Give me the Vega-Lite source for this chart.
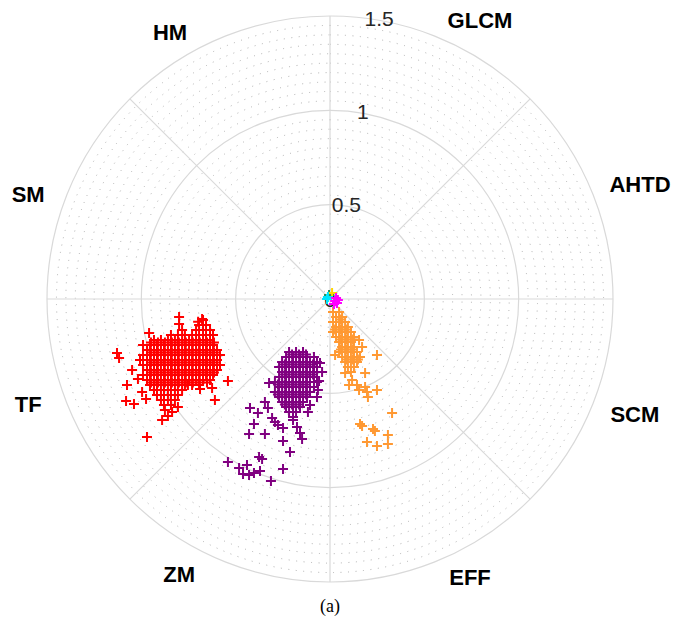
{
"$schema": "https://vega.github.io/schema/vega-lite/v6.json",
"width": 566,
"height": 566,
"autosize": "none",
"padding": {"left": 47, "top": 16, "right": 62, "bottom": 44},
"background": "white",
"config": {"view": {"stroke": null}},
"layer": [
{
"data": {"values": [{"r":0.05},{"r":0.1},{"r":0.15},{"r":0.2},{"r":0.25},{"r":0.3},{"r":0.35},{"r":0.4},{"r":0.45},{"r":0.55},{"r":0.6},{"r":0.65},{"r":0.7},{"r":0.75},{"r":0.8},{"r":0.85},{"r":0.9},{"r":0.95},{"r":1.05},{"r":1.1},{"r":1.15},{"r":1.2},{"r":1.25},{"r":1.3},{"r":1.35},{"r":1.4},{"r":1.45}]},
"mark": {"type": "arc", "theta": 0, "theta2": 6.2832, "filled": false, "stroke": "#b0b0b0", "strokeWidth": 1, "strokeDash": [1, 6.5]},
"encoding": {"radius": {"field": "r", "type": "quantitative", "stack": null, "scale": {"type": "linear", "domain": [0, 1.5], "range": [0, 283], "zero": true, "nice": false}}}
},
{
"data": {"values": [{"r":0.5},{"r":1},{"r":1.5}]},
"mark": {"type": "arc", "theta": 0, "theta2": 6.2832, "filled": false, "stroke": "#d9d9d9", "strokeWidth": 1.2},
"encoding": {"radius": {"field": "r", "type": "quantitative", "stack": null, "scale": {"type": "linear", "domain": [0, 1.5], "range": [0, 283], "zero": true, "nice": false}}}
},
{
"data": {"values": [
{"x":0,"y":0,"x2":0,"y2":1.5},{"x":0,"y":0,"x2":1.0607,"y2":1.0607},{"x":0,"y":0,"x2":1.5,"y2":0},{"x":0,"y":0,"x2":1.0607,"y2":-1.0607},
{"x":0,"y":0,"x2":0,"y2":-1.5},{"x":0,"y":0,"x2":-1.0607,"y2":-1.0607},{"x":0,"y":0,"x2":-1.5,"y2":0},{"x":0,"y":0,"x2":-1.0607,"y2":1.0607}]},
"mark": {"type": "rule", "stroke": "#d9d9d9", "strokeWidth": 1.2},
"encoding": {
"x": {"field": "x", "type": "quantitative", "scale": {"domain": [-1.5, 1.5], "nice": false, "zero": false}, "axis": null},
"y": {"field": "y", "type": "quantitative", "scale": {"domain": [-1.5, 1.5], "nice": false, "zero": false}, "axis": null},
"x2": {"field": "x2"},
"y2": {"field": "y2"}
}
},
{
"data": {"values": [{"t":"0","x":0,"y":-0.01},{"t":"0.5","x":0.0868,"y":0.4924},{"t":"1","x":0.1736,"y":0.9848},{"t":"1.5","x":0.2605,"y":1.4772}]},
"mark": {"type": "text", "font": "Liberation Sans", "fontSize": 21, "color": "#262626", "align": "center", "baseline": "middle"},
"encoding": {
"x": {"field": "x", "type": "quantitative", "scale": {"domain": [-1.5, 1.5], "nice": false, "zero": false}, "axis": null},
"y": {"field": "y", "type": "quantitative", "scale": {"domain": [-1.5, 1.5], "nice": false, "zero": false}, "axis": null},
"text": {"field": "t"}
}
},
{
"data": {"values": [
{"g":"r","x":-1.129,"y":-0.286},{"g":"r","x":-1.118,"y":-0.313},{"g":"r","x":-0.959,"y":-0.180},{"g":"r","x":-0.800,"y":-0.095},{"g":"r","x":-0.800,"y":-0.133},{"g":"r","x":-0.678,"y":-0.106},
{"g":"r","x":-1.049,"y":-0.376},{"g":"r","x":-1.076,"y":-0.456},{"g":"r","x":-1.081,"y":-0.541},{"g":"r","x":-1.039,"y":-0.557},{"g":"r","x":-0.996,"y":-0.493},{"g":"r","x":-0.975,"y":-0.530},
{"g":"r","x":-0.890,"y":-0.641},{"g":"r","x":-0.970,"y":-0.731},{"g":"r","x":-0.610,"y":-0.535},{"g":"r","x":-0.541,"y":-0.435},{"g":"r","x":-0.689,"y":-0.477},{"g":"r","x":-0.625,"y":-0.472},
{"g":"r","x":-0.753,"y":-0.456},{"g":"r","x":-0.806,"y":-0.572},{"g":"r","x":-0.837,"y":-0.599},{"g":"r","x":-0.875,"y":-0.588},{"g":"r","x":-0.859,"y":-0.620},{"g":"r","x":-1.018,"y":-0.424},
{"g":"r","x":-0.673,"y":-0.111},{"g":"r","x":-0.699,"y":-0.120},
{"g":"r","x":-0.694,"y":-0.138},{"g":"r","x":-0.657,"y":-0.138},
{"g":"r","x":-0.784,"y":-0.164},{"g":"r","x":-0.710,"y":-0.164},{"g":"r","x":-0.673,"y":-0.164},{"g":"r","x":-0.636,"y":-0.164},
{"g":"r","x":-0.843,"y":-0.191},{"g":"r","x":-0.806,"y":-0.191},{"g":"r","x":-0.769,"y":-0.191},{"g":"r","x":-0.731,"y":-0.191},{"g":"r","x":-0.694,"y":-0.191},{"g":"r","x":-0.657,"y":-0.191},{"g":"r","x":-0.620,"y":-0.191},
{"g":"r","x":-0.933,"y":-0.217},{"g":"r","x":-0.896,"y":-0.217},{"g":"r","x":-0.859,"y":-0.217},{"g":"r","x":-0.822,"y":-0.217},{"g":"r","x":-0.784,"y":-0.217},{"g":"r","x":-0.747,"y":-0.217},{"g":"r","x":-0.710,"y":-0.217},{"g":"r","x":-0.673,"y":-0.217},{"g":"r","x":-0.636,"y":-0.217},
{"g":"r","x":-0.991,"y":-0.244},{"g":"r","x":-0.954,"y":-0.244},{"g":"r","x":-0.917,"y":-0.244},{"g":"r","x":-0.880,"y":-0.244},{"g":"r","x":-0.843,"y":-0.244},{"g":"r","x":-0.806,"y":-0.244},{"g":"r","x":-0.769,"y":-0.244},{"g":"r","x":-0.731,"y":-0.244},{"g":"r","x":-0.694,"y":-0.244},{"g":"r","x":-0.657,"y":-0.244},{"g":"r","x":-0.620,"y":-0.244},
{"g":"r","x":-0.970,"y":-0.270},{"g":"r","x":-0.933,"y":-0.270},{"g":"r","x":-0.896,"y":-0.270},{"g":"r","x":-0.859,"y":-0.270},{"g":"r","x":-0.822,"y":-0.270},{"g":"r","x":-0.784,"y":-0.270},{"g":"r","x":-0.747,"y":-0.270},{"g":"r","x":-0.710,"y":-0.270},{"g":"r","x":-0.673,"y":-0.270},{"g":"r","x":-0.636,"y":-0.270},{"g":"r","x":-0.599,"y":-0.270},
{"g":"r","x":-0.991,"y":-0.297},{"g":"r","x":-0.954,"y":-0.297},{"g":"r","x":-0.917,"y":-0.297},{"g":"r","x":-0.880,"y":-0.297},{"g":"r","x":-0.843,"y":-0.297},{"g":"r","x":-0.806,"y":-0.297},{"g":"r","x":-0.769,"y":-0.297},{"g":"r","x":-0.731,"y":-0.297},{"g":"r","x":-0.694,"y":-0.297},{"g":"r","x":-0.657,"y":-0.297},{"g":"r","x":-0.620,"y":-0.297},{"g":"r","x":-0.583,"y":-0.297},
{"g":"r","x":-1.007,"y":-0.323},{"g":"r","x":-0.970,"y":-0.323},{"g":"r","x":-0.933,"y":-0.323},{"g":"r","x":-0.896,"y":-0.323},{"g":"r","x":-0.859,"y":-0.323},{"g":"r","x":-0.822,"y":-0.323},{"g":"r","x":-0.784,"y":-0.323},{"g":"r","x":-0.747,"y":-0.323},{"g":"r","x":-0.710,"y":-0.323},{"g":"r","x":-0.673,"y":-0.323},{"g":"r","x":-0.636,"y":-0.323},{"g":"r","x":-0.599,"y":-0.323},
{"g":"r","x":-0.991,"y":-0.350},{"g":"r","x":-0.954,"y":-0.350},{"g":"r","x":-0.917,"y":-0.350},{"g":"r","x":-0.880,"y":-0.350},{"g":"r","x":-0.843,"y":-0.350},{"g":"r","x":-0.806,"y":-0.350},{"g":"r","x":-0.769,"y":-0.350},{"g":"r","x":-0.731,"y":-0.350},{"g":"r","x":-0.694,"y":-0.350},{"g":"r","x":-0.657,"y":-0.350},{"g":"r","x":-0.620,"y":-0.350},{"g":"r","x":-0.583,"y":-0.350},
{"g":"r","x":-0.970,"y":-0.376},{"g":"r","x":-0.933,"y":-0.376},{"g":"r","x":-0.896,"y":-0.376},{"g":"r","x":-0.859,"y":-0.376},{"g":"r","x":-0.822,"y":-0.376},{"g":"r","x":-0.784,"y":-0.376},{"g":"r","x":-0.747,"y":-0.376},{"g":"r","x":-0.710,"y":-0.376},{"g":"r","x":-0.673,"y":-0.376},{"g":"r","x":-0.636,"y":-0.376},{"g":"r","x":-0.599,"y":-0.376},
{"g":"r","x":-0.991,"y":-0.403},{"g":"r","x":-0.954,"y":-0.403},{"g":"r","x":-0.917,"y":-0.403},{"g":"r","x":-0.880,"y":-0.403},{"g":"r","x":-0.843,"y":-0.403},{"g":"r","x":-0.806,"y":-0.403},{"g":"r","x":-0.769,"y":-0.403},{"g":"r","x":-0.731,"y":-0.403},{"g":"r","x":-0.694,"y":-0.403},{"g":"r","x":-0.657,"y":-0.403},{"g":"r","x":-0.620,"y":-0.403},
{"g":"r","x":-0.970,"y":-0.429},{"g":"r","x":-0.933,"y":-0.429},{"g":"r","x":-0.896,"y":-0.429},{"g":"r","x":-0.859,"y":-0.429},{"g":"r","x":-0.822,"y":-0.429},{"g":"r","x":-0.784,"y":-0.429},{"g":"r","x":-0.747,"y":-0.429},{"g":"r","x":-0.710,"y":-0.429},{"g":"r","x":-0.673,"y":-0.429},{"g":"r","x":-0.636,"y":-0.429},
{"g":"r","x":-0.954,"y":-0.456},{"g":"r","x":-0.917,"y":-0.456},{"g":"r","x":-0.880,"y":-0.456},{"g":"r","x":-0.843,"y":-0.456},{"g":"r","x":-0.806,"y":-0.456},{"g":"r","x":-0.769,"y":-0.456},{"g":"r","x":-0.731,"y":-0.456},{"g":"r","x":-0.694,"y":-0.456},
{"g":"r","x":-0.933,"y":-0.482},{"g":"r","x":-0.896,"y":-0.482},{"g":"r","x":-0.859,"y":-0.482},{"g":"r","x":-0.822,"y":-0.482},{"g":"r","x":-0.784,"y":-0.482},
{"g":"r","x":-0.917,"y":-0.509},{"g":"r","x":-0.880,"y":-0.509},{"g":"r","x":-0.843,"y":-0.509},{"g":"r","x":-0.806,"y":-0.509},
{"g":"r","x":-0.896,"y":-0.535},{"g":"r","x":-0.859,"y":-0.535},{"g":"r","x":-0.822,"y":-0.535},
{"g":"r","x":-0.880,"y":-0.562},{"g":"r","x":-0.843,"y":-0.562},
{"g":"r","x":-0.949,"y":-0.231},{"g":"r","x":-0.912,"y":-0.231},{"g":"r","x":-0.875,"y":-0.231},{"g":"r","x":-0.838,"y":-0.231},{"g":"r","x":-0.801,"y":-0.231},{"g":"r","x":-0.764,"y":-0.231},{"g":"r","x":-0.727,"y":-0.231},{"g":"r","x":-0.690,"y":-0.231},{"g":"r","x":-0.652,"y":-0.231},{"g":"r","x":-0.615,"y":-0.231},
{"g":"r","x":-0.949,"y":-0.284},{"g":"r","x":-0.912,"y":-0.284},{"g":"r","x":-0.875,"y":-0.284},{"g":"r","x":-0.838,"y":-0.284},{"g":"r","x":-0.801,"y":-0.284},{"g":"r","x":-0.764,"y":-0.284},{"g":"r","x":-0.727,"y":-0.284},{"g":"r","x":-0.690,"y":-0.284},{"g":"r","x":-0.652,"y":-0.284},{"g":"r","x":-0.615,"y":-0.284},
{"g":"r","x":-0.949,"y":-0.337},{"g":"r","x":-0.912,"y":-0.337},{"g":"r","x":-0.875,"y":-0.337},{"g":"r","x":-0.838,"y":-0.337},{"g":"r","x":-0.801,"y":-0.337},{"g":"r","x":-0.764,"y":-0.337},{"g":"r","x":-0.727,"y":-0.337},{"g":"r","x":-0.690,"y":-0.337},{"g":"r","x":-0.652,"y":-0.337},{"g":"r","x":-0.615,"y":-0.337},
{"g":"r","x":-0.949,"y":-0.390},{"g":"r","x":-0.912,"y":-0.390},{"g":"r","x":-0.875,"y":-0.390},{"g":"r","x":-0.838,"y":-0.390},{"g":"r","x":-0.801,"y":-0.390},{"g":"r","x":-0.764,"y":-0.390},{"g":"r","x":-0.727,"y":-0.390},{"g":"r","x":-0.690,"y":-0.390},{"g":"r","x":-0.652,"y":-0.390},{"g":"r","x":-0.615,"y":-0.390},
{"g":"r","x":-0.949,"y":-0.443},{"g":"r","x":-0.912,"y":-0.443},{"g":"r","x":-0.875,"y":-0.443},{"g":"r","x":-0.838,"y":-0.443},{"g":"r","x":-0.801,"y":-0.443},{"g":"r","x":-0.764,"y":-0.443},{"g":"r","x":-0.727,"y":-0.443},{"g":"r","x":-0.690,"y":-0.443},{"g":"r","x":-0.652,"y":-0.443},
{"g":"p","x":-0.217,"y":-0.281},{"g":"p","x":-0.180,"y":-0.281},{"g":"p","x":-0.143,"y":-0.281},
{"g":"p","x":-0.233,"y":-0.307},{"g":"p","x":-0.196,"y":-0.307},{"g":"p","x":-0.159,"y":-0.307},{"g":"p","x":-0.122,"y":-0.307},{"g":"p","x":-0.085,"y":-0.307},
{"g":"p","x":-0.254,"y":-0.334},{"g":"p","x":-0.217,"y":-0.334},{"g":"p","x":-0.180,"y":-0.334},{"g":"p","x":-0.143,"y":-0.334},{"g":"p","x":-0.106,"y":-0.334},{"g":"p","x":-0.069,"y":-0.334},
{"g":"p","x":-0.270,"y":-0.360},{"g":"p","x":-0.233,"y":-0.360},{"g":"p","x":-0.196,"y":-0.360},{"g":"p","x":-0.159,"y":-0.360},{"g":"p","x":-0.122,"y":-0.360},{"g":"p","x":-0.085,"y":-0.360},
{"g":"p","x":-0.254,"y":-0.387},{"g":"p","x":-0.217,"y":-0.387},{"g":"p","x":-0.180,"y":-0.387},{"g":"p","x":-0.143,"y":-0.387},{"g":"p","x":-0.106,"y":-0.387},{"g":"p","x":-0.069,"y":-0.387},
{"g":"p","x":-0.270,"y":-0.413},{"g":"p","x":-0.233,"y":-0.413},{"g":"p","x":-0.196,"y":-0.413},{"g":"p","x":-0.159,"y":-0.413},{"g":"p","x":-0.122,"y":-0.413},{"g":"p","x":-0.085,"y":-0.413},
{"g":"p","x":-0.292,"y":-0.440},{"g":"p","x":-0.254,"y":-0.440},{"g":"p","x":-0.217,"y":-0.440},{"g":"p","x":-0.180,"y":-0.440},{"g":"p","x":-0.143,"y":-0.440},{"g":"p","x":-0.106,"y":-0.440},{"g":"p","x":-0.069,"y":-0.440},
{"g":"p","x":-0.270,"y":-0.466},{"g":"p","x":-0.233,"y":-0.466},{"g":"p","x":-0.196,"y":-0.466},{"g":"p","x":-0.159,"y":-0.466},{"g":"p","x":-0.122,"y":-0.466},{"g":"p","x":-0.085,"y":-0.466},
{"g":"p","x":-0.292,"y":-0.493},{"g":"p","x":-0.254,"y":-0.493},{"g":"p","x":-0.217,"y":-0.493},{"g":"p","x":-0.180,"y":-0.493},{"g":"p","x":-0.143,"y":-0.493},{"g":"p","x":-0.106,"y":-0.493},
{"g":"p","x":-0.270,"y":-0.519},{"g":"p","x":-0.233,"y":-0.519},{"g":"p","x":-0.196,"y":-0.519},{"g":"p","x":-0.159,"y":-0.519},{"g":"p","x":-0.122,"y":-0.519},
{"g":"p","x":-0.254,"y":-0.546},{"g":"p","x":-0.217,"y":-0.546},{"g":"p","x":-0.180,"y":-0.546},{"g":"p","x":-0.143,"y":-0.546},
{"g":"p","x":-0.233,"y":-0.572},{"g":"p","x":-0.196,"y":-0.572},{"g":"p","x":-0.159,"y":-0.572},
{"g":"p","x":-0.217,"y":-0.599},{"g":"p","x":-0.180,"y":-0.599},
{"g":"p","x":-0.196,"y":-0.625},
{"g":"p","x":-0.201,"y":-0.294},{"g":"p","x":-0.164,"y":-0.294},{"g":"p","x":-0.127,"y":-0.294},
{"g":"p","x":-0.239,"y":-0.347},{"g":"p","x":-0.201,"y":-0.347},{"g":"p","x":-0.164,"y":-0.347},{"g":"p","x":-0.127,"y":-0.347},{"g":"p","x":-0.090,"y":-0.347},
{"g":"p","x":-0.239,"y":-0.400},{"g":"p","x":-0.201,"y":-0.400},{"g":"p","x":-0.164,"y":-0.400},{"g":"p","x":-0.127,"y":-0.400},{"g":"p","x":-0.090,"y":-0.400},
{"g":"p","x":-0.276,"y":-0.453},{"g":"p","x":-0.239,"y":-0.453},{"g":"p","x":-0.201,"y":-0.453},{"g":"p","x":-0.164,"y":-0.453},{"g":"p","x":-0.127,"y":-0.453},
{"g":"p","x":-0.276,"y":-0.506},{"g":"p","x":-0.239,"y":-0.506},{"g":"p","x":-0.201,"y":-0.506},{"g":"p","x":-0.164,"y":-0.506},{"g":"p","x":-0.127,"y":-0.506},
{"g":"p","x":-0.239,"y":-0.559},{"g":"p","x":-0.201,"y":-0.559},{"g":"p","x":-0.164,"y":-0.559},
{"g":"p","x":-0.053,"y":-0.339},{"g":"p","x":-0.058,"y":-0.435},{"g":"p","x":-0.064,"y":-0.482},{"g":"p","x":-0.117,"y":-0.599},{"g":"p","x":-0.323,"y":-0.445},{"g":"p","x":-0.345,"y":-0.546},
{"g":"p","x":-0.424,"y":-0.578},{"g":"p","x":-0.382,"y":-0.604},{"g":"p","x":-0.403,"y":-0.663},{"g":"p","x":-0.429,"y":-0.716},{"g":"p","x":-0.345,"y":-0.716},{"g":"p","x":-0.249,"y":-0.753},
{"g":"p","x":-0.212,"y":-0.811},{"g":"p","x":-0.175,"y":-0.678},{"g":"p","x":-0.159,"y":-0.710},{"g":"p","x":-0.148,"y":-0.742},{"g":"p","x":-0.376,"y":-0.837},{"g":"p","x":-0.360,"y":-0.848},
{"g":"p","x":-0.541,"y":-0.864},{"g":"p","x":-0.482,"y":-0.896},{"g":"p","x":-0.440,"y":-0.880},{"g":"p","x":-0.461,"y":-0.928},{"g":"p","x":-0.429,"y":-0.933},{"g":"p","x":-0.403,"y":-0.922},
{"g":"p","x":-0.371,"y":-0.912},{"g":"p","x":-0.249,"y":-0.901},{"g":"p","x":-0.313,"y":-0.965},{"g":"p","x":-0.276,"y":-0.668},{"g":"p","x":-0.307,"y":-0.631},{"g":"p","x":-0.329,"y":-0.578},
{"g":"p","x":-0.292,"y":-0.652},{"g":"p","x":-0.196,"y":-0.641},{"g":"p","x":-0.249,"y":-0.684},{"g":"p","x":-0.106,"y":-0.562},{"g":"p","x":-0.042,"y":-0.387},{"g":"p","x":-0.069,"y":-0.519},
{"g":"o","x":0.016,"y":-0.069},{"g":"o","x":0.048,"y":-0.069},
{"g":"o","x":0.032,"y":-0.095},{"g":"o","x":0.064,"y":-0.095},
{"g":"o","x":0.016,"y":-0.122},{"g":"o","x":0.048,"y":-0.122},{"g":"o","x":0.080,"y":-0.122},
{"g":"o","x":0.032,"y":-0.148},{"g":"o","x":0.064,"y":-0.148},{"g":"o","x":0.095,"y":-0.148},
{"g":"o","x":0.016,"y":-0.175},{"g":"o","x":0.048,"y":-0.175},{"g":"o","x":0.080,"y":-0.175},{"g":"o","x":0.111,"y":-0.175},
{"g":"o","x":0.032,"y":-0.201},{"g":"o","x":0.064,"y":-0.201},{"g":"o","x":0.095,"y":-0.201},{"g":"o","x":0.127,"y":-0.201},
{"g":"o","x":0.048,"y":-0.228},{"g":"o","x":0.080,"y":-0.228},{"g":"o","x":0.111,"y":-0.228},
{"g":"o","x":0.064,"y":-0.254},{"g":"o","x":0.095,"y":-0.254},{"g":"o","x":0.127,"y":-0.254},
{"g":"o","x":0.048,"y":-0.281},{"g":"o","x":0.080,"y":-0.281},{"g":"o","x":0.111,"y":-0.281},{"g":"o","x":0.143,"y":-0.281},
{"g":"o","x":0.064,"y":-0.307},{"g":"o","x":0.095,"y":-0.307},{"g":"o","x":0.127,"y":-0.307},{"g":"o","x":0.159,"y":-0.307},
{"g":"o","x":0.080,"y":-0.334},{"g":"o","x":0.111,"y":-0.334},{"g":"o","x":0.143,"y":-0.334},
{"g":"o","x":0.095,"y":-0.360},{"g":"o","x":0.127,"y":-0.360},
{"g":"o","x":0.111,"y":-0.387},
{"g":"o","x":0.058,"y":-0.109},
{"g":"o","x":0.027,"y":-0.162},{"g":"o","x":0.058,"y":-0.162},{"g":"o","x":0.090,"y":-0.162},
{"g":"o","x":0.058,"y":-0.215},{"g":"o","x":0.090,"y":-0.215},{"g":"o","x":0.122,"y":-0.215},
{"g":"o","x":0.058,"y":-0.268},{"g":"o","x":0.090,"y":-0.268},{"g":"o","x":0.122,"y":-0.268},
{"g":"o","x":0.090,"y":-0.321},{"g":"o","x":0.122,"y":-0.321},{"g":"o","x":0.148,"y":-0.321},
{"g":"o","x":0.027,"y":-0.297},{"g":"o","x":0.080,"y":-0.392},{"g":"o","x":0.143,"y":-0.456},{"g":"o","x":0.154,"y":-0.482},{"g":"o","x":0.186,"y":-0.466},{"g":"o","x":0.196,"y":-0.493},
{"g":"o","x":0.201,"y":-0.519},{"g":"o","x":0.249,"y":-0.482},{"g":"o","x":0.249,"y":-0.297},{"g":"o","x":0.154,"y":-0.217},{"g":"o","x":0.170,"y":-0.254},{"g":"o","x":0.159,"y":-0.663},
{"g":"o","x":0.170,"y":-0.673},{"g":"o","x":0.228,"y":-0.689},{"g":"o","x":0.196,"y":-0.758},{"g":"o","x":0.249,"y":-0.779},{"g":"o","x":0.307,"y":-0.721},{"g":"o","x":0.307,"y":-0.769},
{"g":"o","x":0.329,"y":-0.604},{"g":"o","x":0.186,"y":-0.392},{"g":"o","x":0.117,"y":-0.429},{"g":"o","x":0.101,"y":-0.456},{"g":"o","x":0.238,"y":-0.700},
{"g":"gr","x":-0.005,"y":0.021},{"g":"y","x":0.011,"y":0.032},{"g":"c","x":-0.016,"y":0.000},{"g":"c","x":-0.011,"y":0.011},
{"g":"m","x":0.027,"y":-0.011},{"g":"m","x":0.037,"y":-0.021},{"g":"m","x":0.021,"y":-0.027},{"g":"m","x":0.042,"y":-0.005},{"g":"m","x":0.032,"y":0.005}
]},
"mark": {"type": "point", "shape": "M-1,0L1,0M0,-1L0,1", "filled": false, "size": 100, "strokeWidth": 2, "opacity": 1},
"encoding": {
"x": {"field": "x", "type": "quantitative", "scale": {"domain": [-1.5, 1.5], "nice": false, "zero": false}, "axis": null},
"y": {"field": "y", "type": "quantitative", "scale": {"domain": [-1.5, 1.5], "nice": false, "zero": false}, "axis": null},
"color": {"field": "g", "type": "nominal", "scale": {"domain": ["r","p","o","y","gr","c","m"], "range": ["#ff0000","#800080","#ff9933","#ffd700","#2e8b57","#00e5ff","#ff00ff"]}, "legend": null}
}
},
{
"data": {"values": [
{"t":"HM","x":-0.848,"y":1.410},{"t":"GLCM","x":0.795,"y":1.473},{"t":"AHTD","x":1.643,"y":0.604},{"t":"SCM","x":1.616,"y":-0.615},
{"t":"EFF","x":0.742,"y":-1.479},{"t":"ZM","x":-0.800,"y":-1.463},{"t":"TF","x":-1.600,"y":-0.562},{"t":"SM","x":-1.600,"y":0.551}]},
"mark": {"type": "text", "font": "Liberation Sans", "fontSize": 22, "fontWeight": "bold", "color": "#000000", "align": "center", "baseline": "middle"},
"encoding": {
"x": {"field": "x", "type": "quantitative", "scale": {"domain": [-1.5, 1.5], "nice": false, "zero": false}, "axis": null},
"y": {"field": "y", "type": "quantitative", "scale": {"domain": [-1.5, 1.5], "nice": false, "zero": false}, "axis": null},
"text": {"field": "t"}
}
},
{
"data": {"values": [{"t":"(a)","x":0,"y":-1.632}]},
"mark": {"type": "text", "font": "Liberation Serif", "fontSize": 18, "color": "#000000", "align": "center", "baseline": "middle"},
"encoding": {
"x": {"field": "x", "type": "quantitative", "scale": {"domain": [-1.5, 1.5], "nice": false, "zero": false}, "axis": null},
"y": {"field": "y", "type": "quantitative", "scale": {"domain": [-1.5, 1.5], "nice": false, "zero": false}, "axis": null},
"text": {"field": "t"}
}
}
]
}
